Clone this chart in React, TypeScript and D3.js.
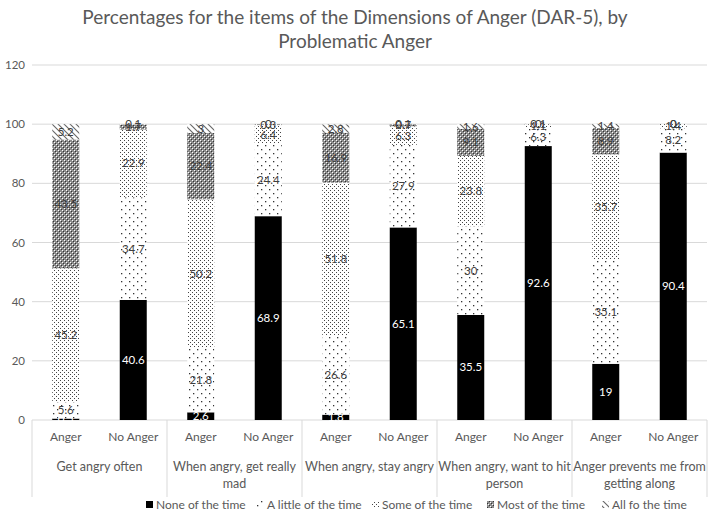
import React from "react";
import * as d3 from "d3";

const items = [
  "Get angry often",
  "When angry, get really mad",
  "When angry, stay angry",
  "When angry, want to hit person",
  "Anger prevents me from getting along",
];
const groups = ["Anger", "No Anger"];
const seriesNames = [
  "None of the time",
  "A little of the time",
  "Some of the time",
  "Most of the time",
  "All fo the time",
];
// order: item1 Anger, item1 No Anger, item2 Anger, ...
const noneVals = [0.5, 40.6, 2.6, 68.9, 1.8, 65.1, 35.5, 92.6, 19, 90.4];
const littleVals = [5.6, 34.7, 21.8, 24.4, 26.6, 27.9, 30, 6.3, 35.1, 8.2];
const someVals = [45.2, 22.9, 50.2, 6.4, 51.8, 6.3, 23.8, 1.1, 35.7, 1.4];
const mostVals = [43.5, 1.7, 22.4, 0.3, 16.9, 0.7, 9.1, 0, 8.9, 0];
const allVals = [5.2, 0.1, 3, 0, 2.8, 0.1, 1.6, 0.1, 1.4, 0];
const yTicks = [0, 20, 40, 60, 80, 100, 120];
const title = [
  "Percentages for the items of the Dimensions of Anger (DAR-5), by",
  "Problematic Anger",
];

const FONT = "Lato, 'Open Sans', sans-serif";
const W = 708;
const H = 512;
const left = 32;
const right = 707;
const y0 = 420;
const yTop = 65;

const patternIds = ["p-none", "p-little", "p-some", "p-most", "p-all"];

function wrap(s: string, max: number): string[] {
  const words = s.split(" ");
  const lines: string[] = [];
  let cur = "";
  for (const w of words) {
    const t = cur ? cur + " " + w : w;
    if (t.length > max && cur) {
      lines.push(cur);
      cur = w;
    } else cur = t;
  }
  if (cur) lines.push(cur);
  return lines;
}

export default function App() {
  const keys = ["none", "little", "some", "most", "all"];
  const rows = noneVals.map((_, i) => ({
    idx: i,
    item: items[Math.floor(i / 2)],
    group: groups[i % 2],
    none: noneVals[i],
    little: littleVals[i],
    some: someVals[i],
    most: mostVals[i],
    all: allVals[i],
  }));
  const stacked = d3.stack<any>().keys(keys)(rows);

  const x0 = d3.scaleBand<string>().domain(items).range([left, right]);
  const x1 = d3
    .scaleBand<string>()
    .domain(groups)
    .range([0, x0.bandwidth()]);
  const barW = x1.bandwidth() * 0.4;
  const y = d3.scaleLinear().domain([0, 120]).range([y0, yTop]);

  const barX = (r: any) =>
    (x0(r.item) as number) + (x1(r.group) as number) + x1.bandwidth() / 2 - barW / 2;

  const legendX = [146, 257, 372, 487, 602];

  return (
    <svg
      width={W}
      height={H}
      style={{ position: "absolute", left: 0, top: 0, background: "#fff" }}
      fontFamily={FONT}
    >
      <defs>
        <pattern id="p-none" width={4} height={4} patternUnits="userSpaceOnUse">
          <rect width={4} height={4} fill="#000" />
        </pattern>
        <pattern id="p-little" width={8} height={8} patternUnits="userSpaceOnUse">
          <rect width={8} height={8} fill="#fff" />
          <rect x={1} y={1} width={1.3} height={1.3} fill="#333" />
          <rect x={5} y={5} width={1.3} height={1.3} fill="#333" />
        </pattern>
        <pattern id="p-some" width={4} height={4} patternUnits="userSpaceOnUse">
          <rect width={4} height={4} fill="#fff" />
          <rect x={0} y={0} width={1} height={1} fill="#444" />
          <rect x={2} y={2} width={1} height={1} fill="#444" />
        </pattern>
        <pattern id="p-most" width={4} height={4} patternUnits="userSpaceOnUse">
          <rect width={4} height={4} fill="#8c8c8c" />
          <rect x={0} y={0} width={1} height={1} fill="#fff" />
          <rect x={2} y={2} width={1} height={1} fill="#fff" />
          <rect x={1} y={1} width={1} height={1} fill="#333" />
          <rect x={3} y={3} width={1} height={1} fill="#333" />
        </pattern>
        <pattern id="p-all" width={6} height={6} patternUnits="userSpaceOnUse">
          <rect width={6} height={6} fill="#fff" />
          <path d="M-1,-1 L7,7 M-4,2 L4,10 M2,-4 L10,4" stroke="#666" strokeWidth={1.1} />
        </pattern>
      </defs>

      {/* title */}
      {title.map((t, i) => (
        <text
          key={i}
          x={355}
          y={24 + i * 24}
          textAnchor="middle"
          fontSize={19}
          fill="#595959"
        >
          {t}
        </text>
      ))}

      {/* gridlines */}
      {yTicks.map((t) => (
        <g key={t}>
          <line x1={left} x2={right} y1={y(t)} y2={y(t)} stroke="#d9d9d9" strokeWidth={1} />
          <text x={25} y={y(t) + 4} textAnchor="end" fontSize={11.5} fill="#595959">
            {t}
          </text>
        </g>
      ))}

      {/* bars */}
      {stacked.map((layer, si) => (
        <g key={layer.key}>
          {layer.map((d: any, j: number) => {
            const r = d.data;
            const yy = y(d[1]);
            const h = y(d[0]) - y(d[1]);
            return (
              <rect
                key={j}
                x={barX(r)}
                y={yy}
                width={barW}
                height={Math.max(0, h)}
                fill={`url(#${patternIds[si]})`}
              />
            );
          })}
        </g>
      ))}

      {/* data labels */}
      {stacked.map((layer, si) => (
        <g key={"l" + layer.key}>
          {layer.map((d: any, j: number) => {
            const r = d.data;
            const v = r[layer.key];
            const cy = y((d[0] + d[1]) / 2);
            return (
              <text
                key={j}
                x={barX(r) + barW / 2}
                y={cy + 4}
                textAnchor="middle"
                fontSize={11.5}
                fill={si === 0 ? "#fff" : "#404040"}
              >
                {String(v)}
              </text>
            );
          })}
        </g>
      ))}

      {/* category axis */}
      {items.map((it) => (
        <g key={it}>
          {groups.map((g) => (
            <text
              key={g}
              x={(x0(it) as number) + (x1(g) as number) + x1.bandwidth() / 2}
              y={441}
              textAnchor="middle"
              fontSize={12}
              fill="#595959"
            >
              {g}
            </text>
          ))}
          {wrap(it, 23).map((ln, k) => (
            <text
              key={k}
              x={(x0(it) as number) + x0.bandwidth() / 2}
              y={471 + k * 17}
              textAnchor="middle"
              fontSize={12.5}
              fill="#595959"
            >
              {ln}
            </text>
          ))}
        </g>
      ))}
      {items.concat(["__end"]).map((it, i) => {
        const xx = i < items.length ? (x0(it) as number) : right;
        return (
          <line
            key={"s" + i}
            x1={xx}
            x2={xx}
            y1={y0}
            y2={497}
            stroke="#d9d9d9"
            strokeWidth={1}
          />
        );
      })}

      {/* legend */}
      {seriesNames.map((s, i) => (
        <g key={s}>
          <rect
            x={legendX[i]}
            y={501}
            width={7}
            height={7}
            fill={`url(#${patternIds[i]})`}
          />
          <text x={legendX[i] + 10} y={509} fontSize={12} fill="#595959">
            {s}
          </text>
        </g>
      ))}
    </svg>
  );
}
